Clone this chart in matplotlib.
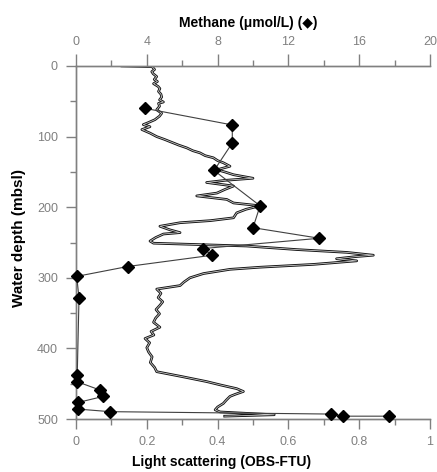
import matplotlib
matplotlib.use("Agg")
import matplotlib.pyplot as plt
import matplotlib.patheffects as pe

plt.rcParams['font.family'] = ['Liberation Sans', 'DejaVu Sans']

# light scattering profile (OBS-FTU) vs depth (mbsl)
obs_depth = [0, 1, 5, 8, 11, 15, 19, 22, 25, 29, 32, 36, 40, 44, 48, 51, 53, 57, 62, 67,
             71, 76, 80, 83, 86, 90, 95, 100, 104, 109, 112, 116, 120, 123, 127, 130, 134,
             137, 142, 147, 150, 154, 159, 162, 165, 170, 175, 180, 184, 189, 194, 198, 203,
             208, 215, 219, 222, 227, 232, 236, 238, 243, 248, 251, 255, 260, 264, 268, 270,
             273, 276, 281, 285, 288, 294, 300, 306, 311, 316, 322, 328, 334, 339, 345, 351,
             357, 363, 370, 376, 381, 386, 392, 399, 405, 412, 420, 427, 433, 440, 447, 452,
             457, 461, 465, 468, 473, 478, 483, 487, 490, 494, 496]
obs_value = [0.13, 0.215, 0.222, 0.214, 0.218, 0.228, 0.221, 0.230, 0.219, 0.232, 0.237,
             0.233, 0.240, 0.242, 0.236, 0.247, 0.233, 0.236, 0.228, 0.242, 0.236, 0.223,
             0.205, 0.190, 0.209, 0.186, 0.209, 0.228, 0.250, 0.275, 0.290, 0.313, 0.330,
             0.350, 0.365, 0.388, 0.400, 0.416, 0.435, 0.398, 0.420, 0.445, 0.500, 0.420,
             0.369, 0.445, 0.420, 0.398, 0.341, 0.426, 0.445, 0.520, 0.480, 0.454, 0.445,
             0.380, 0.294, 0.237, 0.265, 0.294, 0.247, 0.225, 0.209, 0.219, 0.482, 0.623,
             0.765, 0.840, 0.790, 0.736, 0.793, 0.671, 0.520, 0.435, 0.360, 0.322, 0.305,
             0.294, 0.228, 0.240, 0.232, 0.245, 0.237, 0.226, 0.236, 0.225, 0.219, 0.237,
             0.212, 0.220, 0.195, 0.208, 0.200, 0.205, 0.215, 0.210, 0.222, 0.228, 0.300,
             0.369, 0.410, 0.454, 0.473, 0.450, 0.435, 0.425, 0.416, 0.400, 0.393, 0.407,
             0.560, 0.420]

# methane samples (umol/L) vs depth
ch4_depth = [60, 83.5, 109, 148, 198, 229, 244, 258.6, 268, 284, 298, 328.6, 438, 447,
             459, 468, 476.5, 486, 489.6, 493, 496, 496]
ch4_value = [3.9, 8.83, 8.83, 7.8, 10.4, 10.0, 13.75, 7.16, 7.7, 2.92, 0.04, 0.17, 0.07,
             0.04, 1.36, 1.54, 0.13, 0.13, 1.92, 14.4, 15.1, 17.7]

W, H = 437, 472
fig = plt.figure(figsize=(W / 100, H / 100), dpi=100)
ax = fig.add_axes([76 / W, 1 - 419 / H, 354 / W, 353 / H])
ax2 = ax.twiny()

grey = '#808080'
for a in (ax, ax2):
    a.spines['right'].set_visible(False)
    for s in a.spines.values():
        s.set_color(grey)
        s.set_linewidth(1.0)

# light scattering (hollow-looking double line)
ax.plot(obs_value, obs_depth, color='#c8c8c8', lw=0.6, zorder=2,
        path_effects=[pe.Stroke(linewidth=1.9, foreground='#111111'), pe.Normal()])
ax.set_xlim(0, 1)
ax.set_ylim(500, 0)
ax.set_xticks([0, 0.2, 0.4, 0.6, 0.8, 1])
ax.set_xticklabels(['0', '0.2', '0.4', '0.6', '0.8', '1'])
ax.set_xticks([0.1, 0.3, 0.5, 0.7, 0.9], minor=True)
ax.set_yticks([0, 100, 200, 300, 400, 500])
ax.set_yticks([50, 150, 250, 350, 450], minor=True)
ax.tick_params(axis='x', which='major', length=7.5, width=1, color=grey, labelcolor=grey,
               labelsize=9, pad=4.5)
ax.tick_params(axis='y', which='major', length=7.5, width=1, color=grey, labelcolor=grey,
               labelsize=9, pad=5.5)
ax.tick_params(which='minor', length=4, width=1, color=grey)

# methane on top axis
ax2.plot(ch4_value, ch4_depth, color='#404040', lw=0.8, marker='D', ms=6.5,
         mfc='black', mec='black', zorder=3, clip_on=False)
ax2.set_xlim(0, 20)
ax2.set_xticks([0, 4, 8, 12, 16, 20])
ax2.set_xticks([2, 6, 10, 14, 18], minor=True)
ax2.tick_params(axis='x', which='major', length=9, width=1, color=grey, labelcolor=grey,
                labelsize=9, pad=4)
ax2.tick_params(axis='x', which='minor', length=4.5, width=1, color=grey)

fig.text(248 / W, 1 - 23 / H, 'Methane (\u03bcmol/L) (\u25c6)', ha='center', va='center',
         fontsize=10, fontweight='bold')
fig.text(222 / W, 1 - 462 / H, 'Light scattering (OBS-FTU)', ha='center', va='center',
         fontsize=10, fontweight='bold')
fig.text(19 / W, 1 - 238 / H, 'Water depth (mbsl)', ha='center', va='center',
         rotation=90, fontsize=11, fontweight='bold')

fig.savefig('out.png', dpi=100)
